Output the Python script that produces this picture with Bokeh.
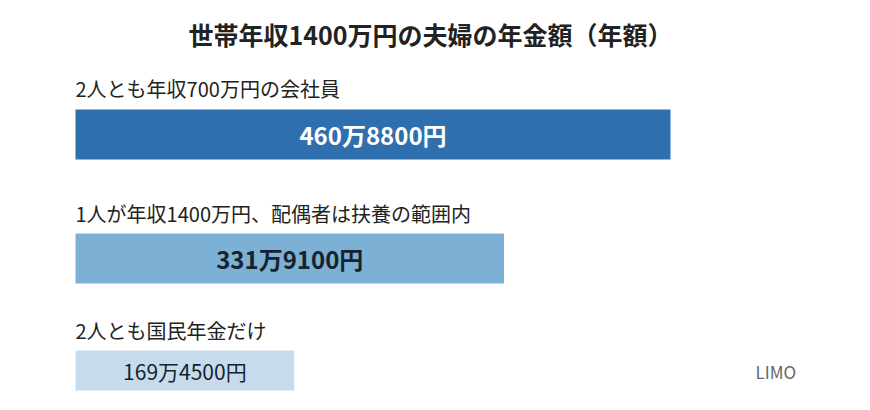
from bokeh.plotting import figure
from bokeh.models import Range1d, ColumnDataSource, Label
from bokeh.core.properties import value
from bokeh.embed import file_html
from bokeh.resources import INLINE

# ---- data ----
title_text = "世帯年収1400万円の夫婦の年金額（年額）"
categories = ["2人とも年収700万円の会社員",
              "1人が年収1400万円、配偶者は扶養の範囲内",
              "2人とも国民年金だけ"]
values_man = [460.88, 331.91, 169.45]          # 万円
value_labels = ["460万8800円", "331万9100円", "169万4500円"]
source_text = "LIMO"

# ---- styling / layout ----
FONT = "Noto Sans CJK JP"
W, H = 854, 394
x0_px = 75                     # screen x of value 0
px_per_unit = 595 / 460.88
bar_colors = ["#2f6fad", "#7cb0d4", "#c6dcec"]
label_colors = ["#ffffff", "#16222e", "#16222e"]
label_styles = ["bold", "bold", "normal"]
label_sizes = ["24px", "24px", "21px"]
bar_centers = [134, 258, 370]       # screen y from top
bar_heights = [50, 50, 40]
cat_centers = [88, 213, 330]

p = figure(width=W, height=H, output_backend="svg", toolbar_location=None,
           x_range=Range1d(-x0_px / px_per_unit, (W - x0_px) / px_per_unit),
           y_range=Range1d(H, 0), min_border=0)
p.axis.visible = False
p.grid.visible = False
p.outline_line_color = None
p.background_fill_color = "white"
p.border_fill_color = "white"

src = ColumnDataSource(dict(
    y=bar_centers, h=bar_heights, v=values_man, mid=[v / 2 for v in values_man],
    c=bar_colors, lab=value_labels, lc=label_colors, ls=label_styles, fs=label_sizes,
    cy=cat_centers, cat=categories, zero=[0] * len(categories)))

p.hbar(y="y", height="h", left=0, right="v", fill_color="c", line_color=None, source=src)
p.text(x="mid", y="y", text="lab", text_color="lc", text_font_style="ls",
       text_font_size="fs", text_font=value(FONT), text_align="center",
       text_baseline="middle", source=src)
p.text(x="zero", y="cy", text="cat", text_color="#222222", text_font_size="20px",
       text_font=value(FONT), text_align="left", text_baseline="middle", source=src)

p.add_layout(Label(x=430, y=H - 33, x_units="screen", y_units="screen", text=title_text,
                   text_font=FONT, text_font_size="25px", text_font_style="bold",
                   text_color="#222222", text_align="center", text_baseline="middle"))
p.add_layout(Label(x=755, y=H - 371, x_units="screen", y_units="screen", text=source_text,
                   text_font=FONT, text_font_size="17px", text_color="#666666",
                   text_align="left", text_baseline="middle"))

open("out.html", "w").write(file_html(p, INLINE))
